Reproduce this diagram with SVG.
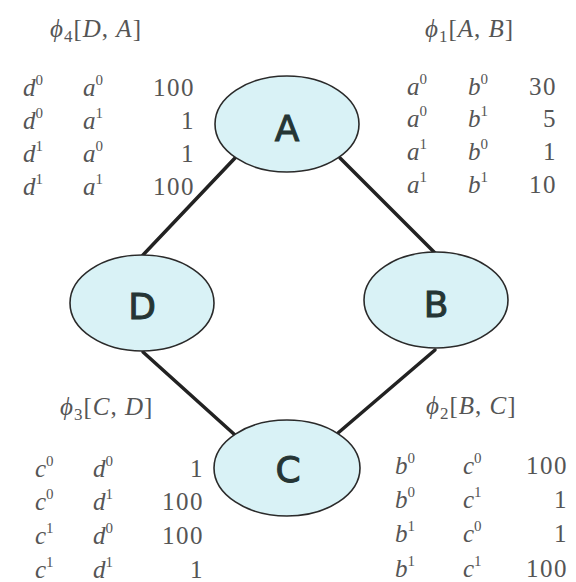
<svg xmlns="http://www.w3.org/2000/svg" width="576" height="582" viewBox="0 0 576 582">
<style>
.node ellipse{fill:#d9f2f6;stroke:#2a2a2a;stroke-width:1.6}
.node text{font-family:"DejaVu Sans","Liberation Sans",sans-serif;font-size:36px;fill:#253535;stroke:#253535;stroke-width:1;text-anchor:middle}
.edges line{stroke:#222;stroke-width:3.5;stroke-linecap:round}
.tbl text{font-family:"Liberation Serif","DejaVu Serif",serif;font-size:25px;fill:#555555}
.v{font-style:italic}
.sup{font-size:15px}
.num{text-anchor:end;letter-spacing:1.5px}
.ttl{font-size:29px;letter-spacing:1px}
</style>
<rect width="576" height="582" fill="#ffffff"/>
<g class="edges" id="connectors">
<line x1="235" y1="158" x2="143" y2="255"/>
<line x1="340" y1="158" x2="435" y2="253"/>
<line x1="143" y1="352" x2="235" y2="435"/>
<line x1="435" y1="350" x2="338" y2="433"/>
</g>
<g class="node" id="node-A"><ellipse cx="287" cy="124" rx="72" ry="48"/><text x="287" y="141">A</text></g>
<g class="node" id="node-D"><ellipse cx="142" cy="303" rx="72" ry="48"/><text x="142" y="319">D</text></g>
<g class="node" id="node-B"><ellipse cx="436" cy="300" rx="72" ry="48"/><text x="436" y="317">B</text></g>
<g class="node" id="node-C"><ellipse cx="287" cy="468" rx="73" ry="48"/><text x="288" y="482">C</text></g>
<g class="tbl" id="table-phi4">
<text class="ttl" x="50" y="37"><tspan class="v">ϕ</tspan><tspan font-size="17" dy="5">4</tspan><tspan dy="-5">[</tspan><tspan class="v">D</tspan>, <tspan class="v">A</tspan>]</text>
<text x="23" y="96"><tspan class="v">d</tspan><tspan class="sup" dy="-11">0</tspan></text>
<text x="83" y="96"><tspan class="v">a</tspan><tspan class="sup" dy="-11">0</tspan></text>
<text class="num" x="195" y="96">100</text>
<text x="23" y="129"><tspan class="v">d</tspan><tspan class="sup" dy="-11">0</tspan></text>
<text x="83" y="129"><tspan class="v">a</tspan><tspan class="sup" dy="-11">1</tspan></text>
<text class="num" x="195" y="129">1</text>
<text x="23" y="162"><tspan class="v">d</tspan><tspan class="sup" dy="-11">1</tspan></text>
<text x="83" y="162"><tspan class="v">a</tspan><tspan class="sup" dy="-11">0</tspan></text>
<text class="num" x="195" y="162">1</text>
<text x="23" y="195"><tspan class="v">d</tspan><tspan class="sup" dy="-11">1</tspan></text>
<text x="83" y="195"><tspan class="v">a</tspan><tspan class="sup" dy="-11">1</tspan></text>
<text class="num" x="195" y="195">100</text>
</g>
<g class="tbl" id="table-phi1">
<text class="ttl" x="425" y="37"><tspan class="v">ϕ</tspan><tspan font-size="17" dy="5">1</tspan><tspan dy="-5">[</tspan><tspan class="v">A</tspan>, <tspan class="v">B</tspan>]</text>
<text x="407" y="95"><tspan class="v">a</tspan><tspan class="sup" dy="-11">0</tspan></text>
<text x="468" y="95"><tspan class="v">b</tspan><tspan class="sup" dy="-11">0</tspan></text>
<text class="num" x="557" y="95">30</text>
<text x="407" y="127"><tspan class="v">a</tspan><tspan class="sup" dy="-11">0</tspan></text>
<text x="468" y="127"><tspan class="v">b</tspan><tspan class="sup" dy="-11">1</tspan></text>
<text class="num" x="557" y="127">5</text>
<text x="407" y="160"><tspan class="v">a</tspan><tspan class="sup" dy="-11">1</tspan></text>
<text x="468" y="160"><tspan class="v">b</tspan><tspan class="sup" dy="-11">0</tspan></text>
<text class="num" x="557" y="160">1</text>
<text x="407" y="193"><tspan class="v">a</tspan><tspan class="sup" dy="-11">1</tspan></text>
<text x="468" y="193"><tspan class="v">b</tspan><tspan class="sup" dy="-11">1</tspan></text>
<text class="num" x="557" y="193">10</text>
</g>
<g class="tbl" id="table-phi3">
<text class="ttl" x="60" y="415"><tspan class="v">ϕ</tspan><tspan font-size="17" dy="5">3</tspan><tspan dy="-5">[</tspan><tspan class="v">C</tspan>, <tspan class="v">D</tspan>]</text>
<text x="35" y="477"><tspan class="v">c</tspan><tspan class="sup" dy="-11">0</tspan></text>
<text x="93" y="477"><tspan class="v">d</tspan><tspan class="sup" dy="-11">0</tspan></text>
<text class="num" x="204" y="477">1</text>
<text x="35" y="510"><tspan class="v">c</tspan><tspan class="sup" dy="-11">0</tspan></text>
<text x="93" y="510"><tspan class="v">d</tspan><tspan class="sup" dy="-11">1</tspan></text>
<text class="num" x="204" y="510">100</text>
<text x="35" y="544"><tspan class="v">c</tspan><tspan class="sup" dy="-11">1</tspan></text>
<text x="93" y="544"><tspan class="v">d</tspan><tspan class="sup" dy="-11">0</tspan></text>
<text class="num" x="204" y="544">100</text>
<text x="35" y="578"><tspan class="v">c</tspan><tspan class="sup" dy="-11">1</tspan></text>
<text x="93" y="578"><tspan class="v">d</tspan><tspan class="sup" dy="-11">1</tspan></text>
<text class="num" x="204" y="578">1</text>
</g>
<g class="tbl" id="table-phi2">
<text class="ttl" x="426" y="414"><tspan class="v">ϕ</tspan><tspan font-size="17" dy="5">2</tspan><tspan dy="-5">[</tspan><tspan class="v">B</tspan>, <tspan class="v">C</tspan>]</text>
<text x="395" y="474"><tspan class="v">b</tspan><tspan class="sup" dy="-11">0</tspan></text>
<text x="463" y="474"><tspan class="v">c</tspan><tspan class="sup" dy="-11">0</tspan></text>
<text class="num" x="568" y="474">100</text>
<text x="395" y="508"><tspan class="v">b</tspan><tspan class="sup" dy="-11">0</tspan></text>
<text x="463" y="508"><tspan class="v">c</tspan><tspan class="sup" dy="-11">1</tspan></text>
<text class="num" x="568" y="508">1</text>
<text x="395" y="542"><tspan class="v">b</tspan><tspan class="sup" dy="-11">1</tspan></text>
<text x="463" y="542"><tspan class="v">c</tspan><tspan class="sup" dy="-11">0</tspan></text>
<text class="num" x="568" y="542">1</text>
<text x="395" y="577"><tspan class="v">b</tspan><tspan class="sup" dy="-11">1</tspan></text>
<text x="463" y="577"><tspan class="v">c</tspan><tspan class="sup" dy="-11">1</tspan></text>
<text class="num" x="568" y="577">100</text>
</g>
</svg>
